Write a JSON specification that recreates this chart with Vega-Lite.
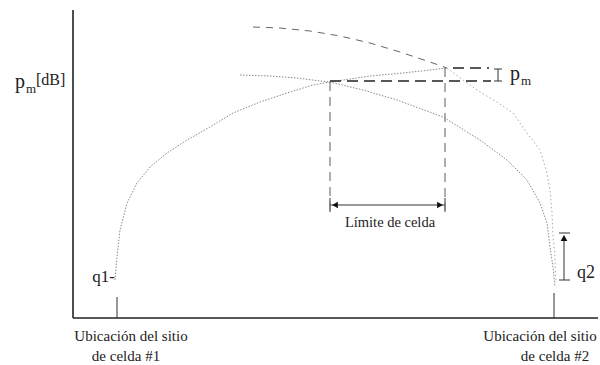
{
  "$schema": "https://vega.github.io/schema/vega-lite/v6.json",
  "width": 600,
  "height": 365,
  "padding": 0,
  "autosize": {"type": "none"},
  "background": "white",
  "config": {"view": {"stroke": null}, "text": {"font": "Liberation Serif", "color": "#222"}},
  "datasets": {
    "arch1": [
      {"x": 42, "y": 38}, {"x": 44, "y": 61}, {"x": 47, "y": 88}, {"x": 54, "y": 115}, {"x": 64, "y": 135},
      {"x": 77, "y": 151}, {"x": 94, "y": 165}, {"x": 114, "y": 178}, {"x": 137, "y": 191}, {"x": 160, "y": 205},
      {"x": 187, "y": 216}, {"x": 214, "y": 225}, {"x": 240, "y": 233}, {"x": 257, "y": 236}, {"x": 277, "y": 239},
      {"x": 297, "y": 242}, {"x": 330, "y": 245}, {"x": 357, "y": 248}, {"x": 374, "y": 250}
    ],
    "arch2": [
      {"x": 167, "y": 243}, {"x": 197, "y": 242}, {"x": 224, "y": 240}, {"x": 247, "y": 237}, {"x": 257, "y": 236},
      {"x": 290, "y": 228}, {"x": 324, "y": 218}, {"x": 370, "y": 201}, {"x": 407, "y": 178}, {"x": 434, "y": 158},
      {"x": 454, "y": 138}, {"x": 467, "y": 115}, {"x": 474, "y": 95}, {"x": 477, "y": 71}, {"x": 480, "y": 51}, {"x": 482, "y": 31}
    ],
    "upperDashed": [
      {"x": 180, "y": 291}, {"x": 207, "y": 290}, {"x": 237, "y": 287}, {"x": 267, "y": 282}, {"x": 297, "y": 275},
      {"x": 327, "y": 266}, {"x": 357, "y": 256}, {"x": 374, "y": 250}
    ],
    "upperDotted": [
      {"x": 374, "y": 250}, {"x": 390, "y": 238}, {"x": 407, "y": 226}, {"x": 424, "y": 216}, {"x": 440, "y": 205},
      {"x": 454, "y": 185}, {"x": 467, "y": 168}, {"x": 474, "y": 145}, {"x": 477, "y": 128}, {"x": 479, "y": 105},
      {"x": 480, "y": 81}, {"x": 482, "y": 61}, {"x": 483, "y": 35}
    ],
    "axes": [
      {"x": 0, "y": 0, "x2": 0, "y2": 308},
      {"x": 0, "y": 0, "x2": 525, "y2": 0}
    ],
    "thin": [
      {"x": 44, "y": 0, "x2": 44, "y2": 21},
      {"x": 481, "y": 0, "x2": 481, "y2": 25},
      {"x": 257, "y": 113, "x2": 372, "y2": 113},
      {"x": 257, "y": 106, "x2": 257, "y2": 120},
      {"x": 372, "y": 106, "x2": 372, "y2": 120},
      {"x": 425, "y": 237, "x2": 425, "y2": 249},
      {"x": 421, "y": 237, "x2": 429, "y2": 237},
      {"x": 421, "y": 249, "x2": 429, "y2": 249},
      {"x": 491, "y": 38, "x2": 491, "y2": 82},
      {"x": 486, "y": 85, "x2": 497, "y2": 85},
      {"x": 486, "y": 38, "x2": 497, "y2": 38}
    ],
    "hdash": [
      {"x": 257, "y": 237, "x2": 418, "y2": 237},
      {"x": 380, "y": 250, "x2": 416, "y2": 250}
    ],
    "vdash": [
      {"x": 257, "y": 236, "x2": 257, "y2": 108},
      {"x": 372, "y": 250, "x2": 372, "y2": 108}
    ],
    "heads": [
      {"x": 262, "y": 113, "dir": "left"},
      {"x": 367, "y": 113, "dir": "right"},
      {"x": 491, "y": 80, "dir": "up"}
    ],
    "labelsLeft": [
      {"x": -37, "y": 233, "t": "[dB]", "s": 16},
      {"x": 504, "y": 40, "t": "q2", "s": 18}
    ],
    "labelsRight": [
      {"x": 42, "y": 36, "t": "q1-", "s": 17}
    ],
    "labelsCenter": [
      {"x": 317, "y": 91, "t": "Límite de celda", "s": 14.5},
      {"x": 58, "y": -23, "t": "Ubicación del sitio", "s": 15},
      {"x": 53, "y": -43, "t": "de celda #1", "s": 15},
      {"x": 467, "y": -23, "t": "Ubicación del sitio", "s": 15},
      {"x": 482, "y": -43, "t": "de celda #2", "s": 15}
    ],
    "pLabels": [
      {"x": -58, "y": 230, "t": "p"},
      {"x": 437, "y": 238, "t": "p"}
    ],
    "mLabels": [
      {"x": -47, "y": 225, "t": "m"},
      {"x": 448, "y": 233, "t": "m"}
    ]
  },
  "encoding": {
    "x": {"field": "x", "type": "quantitative", "scale": {"domain": [-73, 527], "nice": false, "zero": false}, "axis": null},
    "y": {"field": "y", "type": "quantitative", "scale": {"domain": [-47, 318], "nice": false, "zero": false}, "axis": null}
  },
  "layer": [
    {"data": {"name": "arch1"}, "mark": {"type": "line", "color": "#8a8a8a", "strokeWidth": 1, "strokeDash": [1.5, 1.5]}},
    {"data": {"name": "arch2"}, "mark": {"type": "line", "color": "#8a8a8a", "strokeWidth": 1, "strokeDash": [1.5, 1.5]}},
    {"data": {"name": "upperDashed"}, "mark": {"type": "line", "color": "#666", "strokeWidth": 1, "strokeDash": [7, 6]}},
    {"data": {"name": "upperDotted"}, "mark": {"type": "line", "color": "#aaa", "strokeWidth": 1, "strokeDash": [1.5, 2.5]}},
    {"data": {"name": "axes"}, "mark": {"type": "rule", "color": "#222", "strokeWidth": 1.6},
     "encoding": {"x2": {"field": "x2"}, "y2": {"field": "y2"}}},
    {"data": {"name": "thin"}, "mark": {"type": "rule", "color": "#333", "strokeWidth": 1},
     "encoding": {"x2": {"field": "x2"}, "y2": {"field": "y2"}}},
    {"data": {"name": "hdash"}, "mark": {"type": "rule", "color": "#222", "strokeWidth": 1.3, "strokeDash": [11, 6]},
     "encoding": {"x2": {"field": "x2"}, "y2": {"field": "y2"}}},
    {"data": {"name": "vdash"}, "mark": {"type": "rule", "color": "#777", "strokeWidth": 1.2, "strokeDash": [9, 6]},
     "encoding": {"x2": {"field": "x2"}, "y2": {"field": "y2"}}},
    {"data": {"name": "heads"}, "mark": {"type": "point", "filled": true, "color": "#111", "size": 45, "opacity": 1},
     "encoding": {"shape": {"field": "dir", "type": "nominal", "scale": {"domain": ["left", "right", "up"], "range": ["triangle-left", "triangle-right", "triangle-up"]}, "legend": null}}},
    {"data": {"name": "labelsLeft"}, "mark": {"type": "text", "baseline": "alphabetic", "align": "left"},
     "encoding": {"text": {"field": "t"}, "size": {"field": "s", "type": "quantitative", "scale": null}}},
    {"data": {"name": "labelsRight"}, "mark": {"type": "text", "baseline": "alphabetic", "align": "right"},
     "encoding": {"text": {"field": "t"}, "size": {"field": "s", "type": "quantitative", "scale": null}}},
    {"data": {"name": "labelsCenter"}, "mark": {"type": "text", "baseline": "alphabetic", "align": "center"},
     "encoding": {"text": {"field": "t"}, "size": {"field": "s", "type": "quantitative", "scale": null}}},
    {"data": {"name": "pLabels"}, "mark": {"type": "text", "baseline": "alphabetic", "align": "left", "fontSize": 20},
     "encoding": {"text": {"field": "t"}}},
    {"data": {"name": "mLabels"}, "mark": {"type": "text", "baseline": "alphabetic", "align": "left", "fontSize": 13},
     "encoding": {"text": {"field": "t"}}}
  ]
}
